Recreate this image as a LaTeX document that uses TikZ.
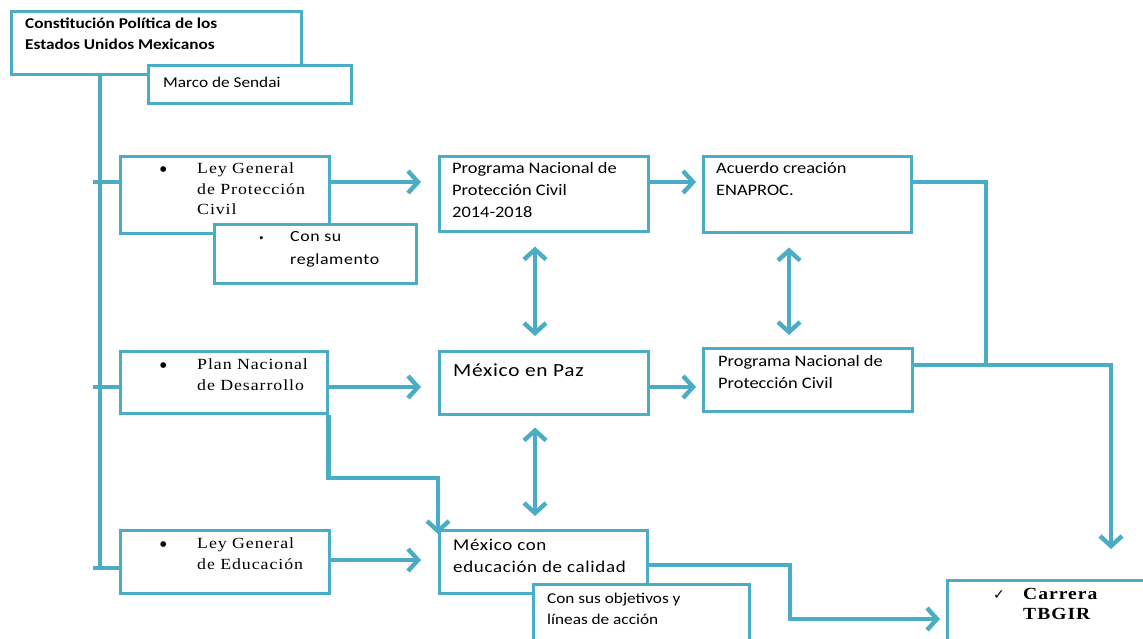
\documentclass[tikz,border=0pt]{standalone}
\usepackage{fontspec}
\setmainfont{Carlito}
\newfontfamily\sfn[FakeStretch=1.15]{Carlito}
\newfontfamily\sfw[FakeStretch=1.15,LetterSpace=4]{Carlito}
\newfontfamily\srf[FakeStretch=1.15,LetterSpace=6]{Liberation Serif}
\newfontfamily\srb{Liberation Serif}
\newfontfamily\symf{DejaVu Sans}
\newcommand\bigbul{\makebox[37pt][l]{\hspace*{-1pt}\srb\fontsize{24}{20}\selectfont\raisebox{-3.5pt}{•}}}
\usetikzlibrary{arrows.meta}
\definecolor{lc}{RGB}{75,172,198}
\begin{document}
\begin{tikzpicture}[x=1pt,y=-1pt,
  box/.style={draw=lc, line width=2.5pt, fill=white, anchor=north west, inner sep=0pt},
  txt/.style={anchor=north west, inner sep=0pt, align=left, execute at begin node={\rule{0pt}{14pt}}},
  sans/.style={txt, font=\sfn\fontsize{16}{22}\selectfont},
  serif/.style={txt, font=\srf\fontsize{15.5}{20.5}\selectfont},
  conn/.style={draw=lc, line width=4.4pt},
  tipa/.tip={Straight Barb[length=10pt,width=22pt]},
  arr/.style={conn, -tipa},
  darr/.style={conn, tipa-tipa}]
\useasboundingbox (0,0) rectangle (1143,638);
\clip (0,0) rectangle (1143,638);

% level coordinates
\coordinate (r1) at (0,182);
\coordinate (r2) at (0,387);
\coordinate (r3) at (0,560);
\coordinate (tb) at (100,568);
\coordinate (s1) at (93,182);
\coordinate (s2) at (93,387);
\coordinate (s3) at (93,568);
\coordinate (cx) at (535,0);
\coordinate (cx2) at (789,0);
\coordinate (p1) at (326,478);
\coordinate (k1) at (986,182);
\coordinate (k2) at (1111,365);
\coordinate (kt) at (1111,549);
\coordinate (m1) at (790,565);
\coordinate (m2) at (790,619);

% boxes (drawn as named nodes, geometry only)
\node[box, minimum width=290pt, minimum height=63pt] (con) at (10,10) {};
\node[box, minimum width=203pt, minimum height=38pt] (marco) at (147,64) {};
\node[box, minimum width=209pt, minimum height=77pt] (lgpc) at (119,155) {};
\node[box, minimum width=209pt, minimum height=75pt] (pn) at (438,155) {};
\node[box, minimum width=208pt, minimum height=76pt] (acu) at (702,155) {};
\node[box, minimum width=207pt, minimum height=62pt] (plan) at (119,350) {};
\node[box, minimum width=209pt, minimum height=63pt] (paz) at (438,350) {};
\node[box, minimum width=209pt, minimum height=63pt] (pn2) at (702,347) {};
\node[box, minimum width=209pt, minimum height=63pt] (lge) at (119,529) {};
\node[box, minimum width=208pt, minimum height=63pt] (mcon) at (438,529) {};

% connectors
\draw[conn] (con.south -| tb) -- (tb);
\draw[conn] (s1) -- (lgpc.west |- s1);
\draw[conn] (s2) -- (plan.west |- s2);
\draw[conn] (s3) -- (lge.west |- s3);
\draw[arr, shorten >=17pt] (lgpc.east |- r1) -- (pn.west |- r1);
\draw[arr, shorten >=6pt] (pn.east |- r1) -- (acu.west |- r1);
\draw[arr, shorten >=17pt] (plan.east |- r2) -- (paz.west |- r2);
\draw[arr, shorten >=6pt] (paz.east |- r2) -- (pn2.west |- r2);
\draw[arr, shorten >=17pt] (lge.east |- r3) -- (mcon.west |- r3);
\draw[darr, shorten <=14pt, shorten >=14pt] (cx |- pn.south) -- (cx |- paz.north);
\draw[darr, shorten <=12pt, shorten >=13pt] (cx |- paz.south) -- (cx |- mcon.north);
\draw[darr, shorten <=14pt, shorten >=12pt] (cx2 |- acu.south) -- (cx2 |- pn2.north);
\draw[arr] (plan.south east) -- (plan.south east |- p1) -- (p1 -| mcon.west) -- ([yshift=-5pt]mcon.north west);
\draw[conn] (acu.east |- k1) -- (k1) -- (k1 |- k2);
\draw[arr] (pn2.east |- k2) -- (k2) -- (kt);
\draw[arr, shorten >=6pt] (mcon.east |- m1) -- (m1) -- (m2) -- (946,619);

% overlapping boxes
\node[box, minimum width=202pt, minimum height=59pt] (reg) at (213,223) {};
\node[box, minimum width=216pt, minimum height=70pt] (obj) at (532,583) {};
\node[box, minimum width=210pt, minimum height=70pt] (car) at (946,579) {};

% texts
\node[txt, font=\bfseries\sfn\fontsize{15}{21}\selectfont] (tcon) at (25,18) {Constitución  Política de los\\Estados Unidos Mexicanos};
\node[sans, font=\sfn\fontsize{15}{21}\selectfont] (tmarco) at (163,73) {Marco de Sendai};
\node[serif] (tlgpc) at (160,163) {\bigbul Ley General\\\hspace*{37pt}de Protección\\\hspace*{37pt}Civil};
\node[txt, font=\sfw\fontsize{15.5}{23}\selectfont] (treg) at (259,231) {\makebox[31pt][l]{\srb\fontsize{13}{13}\selectfont\raisebox{-1pt}{•}}Con su\\\hspace*{31pt}reglamento};
\node[sans] (tpn) at (452,162) {Programa Nacional de\\Protección Civil\\2014-2018};
\node[sans] (tacu) at (716,162) {Acuerdo creación\\ENAPROC.};
\node[serif] (tplan) at (160,359) {\bigbul Plan Nacional\\\hspace*{37pt}de Desarrollo};
\node[txt, font=\sfw\fontsize{18.5}{24}\selectfont] (tpaz) at (453,362) {México en Paz};
\node[sans] (tpn2) at (718,355) {Programa Nacional de\\Protección Civil};
\node[serif] (tlge) at (160,538) {\bigbul Ley General\\\hspace*{37pt}de Educación};
\node[txt, font=\sfw\fontsize{16.5}{22}\selectfont] (tmcon) at (453,539) {México con\\educación de calidad};
\node[sans, font=\sfn\fontsize{15}{21}\selectfont] (tobj) at (547,593) {Con sus objetivos y\\líneas de acción};
\node[txt, font=\bfseries\srf\fontsize{17}{20}\selectfont] (tcar) at (993,588) {\makebox[30pt][l]{\symf\fontsize{14}{14}\selectfont ✓}Carrera\\\hspace*{30pt}TBGIR};
\end{tikzpicture}
\end{document}
